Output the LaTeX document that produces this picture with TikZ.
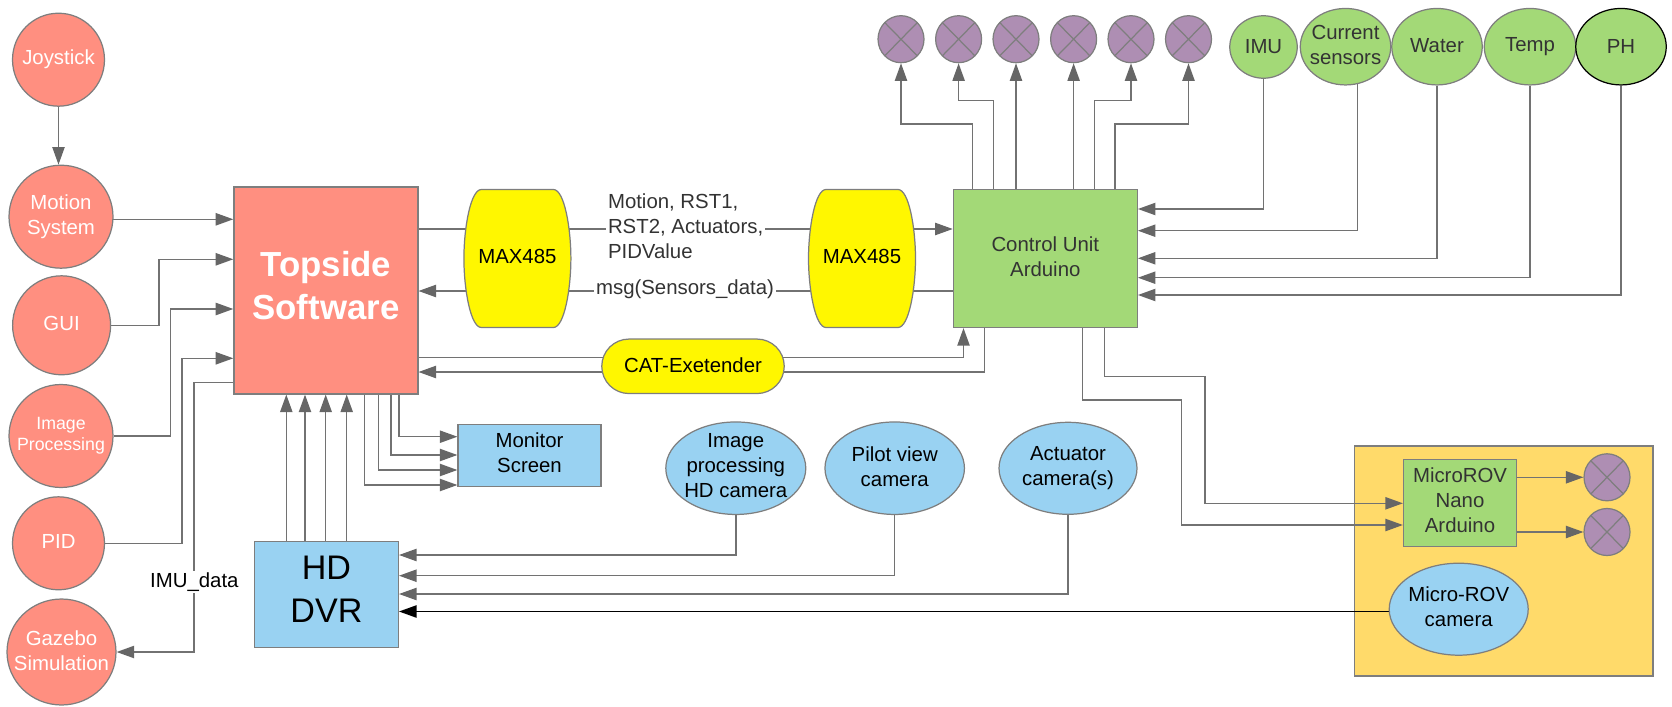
\documentclass[tikz,border=0pt]{standalone}
\usepackage{fontspec}
\setmainfont{Liberation Sans}
\usetikzlibrary{arrows.meta,shapes.geometric,shapes.misc}
\definecolor{redfill}{HTML}{FF8F80}
\definecolor{yellowfill}{HTML}{FFF700}
\definecolor{greenfill}{HTML}{A3D977}
\definecolor{bluefill}{HTML}{99D2F2}
\definecolor{orangefill}{HTML}{FFDA6A}
\definecolor{purplefill}{HTML}{AE8EB3}
\definecolor{edgegray}{HTML}{7E7E7E}
\definecolor{wiregray}{HTML}{727272}
\definecolor{tipgray}{HTML}{666666}
\definecolor{darktext}{HTML}{333333}
\pgfdeclarelayer{wires}
\pgfsetlayers{wires,main}
\tikzset{
	every node/.style={font=\fontsize{11.6}{14.2}\selectfont,align=center},
	box/.style={draw=edgegray,line width=0.7pt,rectangle,inner sep=0pt},
	ball/.style={draw=edgegray,line width=0.7pt,ellipse,inner sep=-6pt},
	redball/.style={ball,fill=redfill,text=white},
	greenball/.style={ball,fill=greenfill,text=darktext},
	blueball/.style={ball,fill=bluefill,text=black},
	thruster/.style={ball,fill=purplefill,inner sep=0pt,minimum width=0.92cm,minimum height=0.94cm,
		path picture={\draw[edgegray,line width=0.7pt] (path picture bounding box.north west) -- (path picture bounding box.south east)
			(path picture bounding box.north east) -- (path picture bounding box.south west);}},
	barrel/.style={draw=edgegray,line width=0.7pt,fill=yellowfill},
	wire/.style={draw=wiregray,line width=0.8pt,-{Triangle[length=10pt,width=7pt,color=tipgray]}},
	link/.style={draw=wiregray,line width=0.8pt},
	textlabel/.style={fill=white,inner sep=1pt},
}
\newcommand{\maxbarrel}[3]{
	\draw [barrel,shift={(#2,#3)}] (-36,-69) -- (36,-69) .. controls (47,-69) and (53.5,-30) .. (53.5,0)
		.. controls (53.5,30) and (47,69) .. (36,69) -- (-36,69) .. controls (-47,69) and (-53.5,30) .. (-53.5,0)
		.. controls (-53.5,-30) and (-47,-69) .. (-36,-69) -- cycle;
	\node [inner sep=0pt,text depth=2pt,minimum width=2.14cm,minimum height=2.76cm] (#1) at (#2,#3){MAX485};
}
\begin{document}
\begin{tikzpicture}[x=0.02cm,y=-0.02cm]
	\useasboundingbox (0,0) rectangle (1672,706);

	% left column
	\node [redball,minimum width=1.84cm,minimum height=1.86cm] (joystick) at (58.5,59.7){Joystick};
	\node [redball,minimum width=2.08cm,minimum height=2.06cm] (motion) at (61,216.7){Motion\\System};
	\node [redball,text depth=2.6pt,minimum width=1.96cm,minimum height=1.98cm] (gui) at (61.6,325.3){GUI};
	\node [redball,minimum width=2.08cm,minimum height=2.06cm,font=\fontsize{10.1}{12}\selectfont] (improc) at (61,436){Image\\Processing};
	\node [redball,text depth=2.2pt,minimum width=1.84cm,minimum height=1.86cm] (pid) at (58.5,543.3){PID};
	\node [redball,text depth=1.7pt,minimum width=2.18cm,minimum height=2.12cm] (gazebo) at (61.5,652){Gazebo\\Simulation};

	% topside
	\node [box,fill=redfill,text=white,text depth=5.6pt,minimum width=3.68cm,minimum height=4.14cm,font=\fontsize{19.8}{24.5}\selectfont\bfseries] (topside) at (325.9,290.5){Topside\\Software};
	\node [box,fill=bluefill,text depth=5.2pt,minimum width=2.88cm,minimum height=2.12cm,font=\fontsize{19.4}{24.5}\selectfont] (dvr) at (326.4,594.2){HD\\DVR};
	\node [box,fill=bluefill,text depth=2.6pt,minimum width=2.86cm,minimum height=1.24cm] (monitor) at (529.5,455.2){Monitor\\Screen};

	% middle
	\maxbarrel{maxa}{517.4}{258.5}
	\maxbarrel{maxb}{862}{258.5}
	\node [draw=edgegray,line width=0.7pt,rounded rectangle,fill=yellowfill,inner sep=0pt,text depth=1.8pt,minimum width=3.65cm,minimum height=1.09cm] (cat) at (693,366.3){CAT-Exetender};
	\node [textlabel,align=left,text=darktext] (cmdlabel) at (685.6,226){Motion, RST1,\\RST2, Actuators,\\PIDValue};
	\node [textlabel,text=darktext] (msglabel) at (685,289){msg(Sensors\_data)};
	\node [textlabel] (imulabel) at (194.4,582.3){IMU\_data};

	% control unit
	\node [box,fill=greenfill,text=darktext,text depth=2pt,minimum width=3.68cm,minimum height=2.76cm] (control) at (1045.3,258.5){Control Unit\\Arduino};

	% thrusters
	\node [thruster] (thra) at (901,39.2){};
	\node [thruster] (thrb) at (958.6,39.2){};
	\node [thruster] (thrc) at (1016,39.2){};
	\node [thruster] (thrd) at (1073.6,39.2){};
	\node [thruster] (thre) at (1131,39.2){};
	\node [thruster] (thrf) at (1188.5,39.2){};

	% sensors
	\node [greenball,minimum width=1.35cm,minimum height=1.25cm] (imu) at (1263.5,47){IMU};
	\node [greenball,text depth=2pt,minimum width=1.81cm,minimum height=1.53cm] (current) at (1345.5,46.7){Current\\sensors};
	\node [greenball,text depth=1.5pt,minimum width=1.81cm,minimum height=1.53cm] (water) at (1437,46.7){Water};
	\node [greenball,minimum width=1.83cm,minimum height=1.53cm] (temp) at (1530,46.7){Temp};
	\node [greenball,draw=black,minimum width=1.81cm,minimum height=1.53cm] (ph) at (1621,46.7){PH};

	% cameras
	\node [blueball,text depth=2.8pt,minimum width=2.8cm,minimum height=1.85cm] (ipcam) at (735.8,468.2){Image\\processing\\HD camera};
	\node [blueball,text depth=2.2pt,minimum width=2.79cm,minimum height=1.85cm] (pilotcam) at (894.7,468.2){Pilot view\\camera};
	\node [blueball,minimum width=2.76cm,minimum height=1.84cm] (actcam) at (1068,468.3){Actuator\\camera(s)};

	% micro rov
	\begin{pgfonlayer}{wires}
		\node [box,fill=orangefill,minimum width=5.98cm,minimum height=4.6cm] (rovbox) at (1503.6,561){};
	\end{pgfonlayer}
	\node [box,fill=greenfill,text=darktext,text depth=3pt,minimum width=2.26cm,minimum height=1.74cm] (nano) at (1460,503){MicroROV\\Nano\\Arduino};
	\node [thruster] (thrg) at (1607,477.3){};
	\node [thruster] (thrh) at (1607,532){};
	\node [blueball,text depth=3.4pt,minimum width=2.78cm,minimum height=1.84cm] (rovcam) at (1458.7,609.2){Micro-ROV\\camera};

	\begin{pgfonlayer}{wires}
		% left column
		\draw [wire] (joystick.south) -- (joystick.south |- motion.north);
		\draw [wire] (motion.center |- 0,219.3) -- (topside.west |- 0,219.3);
		\draw [wire] (gui) -| (159,259.3) -- (topside.west |- 0,259.3);
		\draw [wire] (improc) -| (170.7,309) -- (topside.west |- 0,309);
		\draw [wire] (pid) -| (182,358.3) -- (topside.west |- 0,358.3);
		\draw [wire] (topside.west |- 0,382.3) -| (194,652) -- (gazebo.east);

		% dvr to topside
		\draw [wire] (286.3,0 |- dvr.north) -- (286.3,0 |- topside.south);
		\draw [wire] (305,0 |- dvr.north) -- (305,0 |- topside.south);
		\draw [wire] (325.7,0 |- dvr.north) -- (325.7,0 |- topside.south);
		\draw [wire] (346.7,0 |- dvr.north) -- (346.7,0 |- topside.south);

		% topside to monitor
		\draw [wire] (399,0 |- topside.south) |- (monitor.west |- 0,436.7);
		\draw [wire] (391,0 |- topside.south) |- (monitor.west |- 0,455);
		\draw [wire] (378.5,0 |- topside.south) |- (monitor.west |- 0,470);
		\draw [wire] (364.7,0 |- topside.south) |- (monitor.west |- 0,485);

		% cameras to dvr
		\draw [wire] (ipcam.south) |- (dvr.east |- 0,555);
		\draw [wire] (pilotcam.south) |- (dvr.east |- 0,575.7);
		\draw [wire] (actcam.south) |- (dvr.east |- 0,594);
		\draw [wire,draw=black,-{Triangle[length=10pt,width=7pt,color=black]}] (rovcam.center |- 0,611.5) -- (dvr.east |- 0,611.5);

		% max485
		\draw [link] (topside.east |- 0,229) -- (maxb.center |- 0,229);
		\draw [wire] (maxb.center |- 0,229) -- (control.west |- 0,229);
		\draw [link] (control.west |- 0,291) -- (maxa.center |- 0,291);
		\draw [wire] (maxa.center |- 0,291) -- (topside.east |- 0,291);

		% cat
		\draw [wire] (topside.east |- 0,357.3) -| (963.5,0 |- control.south);
		\draw [wire] (984.4,0 |- control.south) |- (topside.east |- 0,372);

		% control unit to thrusters
		\draw [wire] (972.2,0 |- control.north) |- (thra.south |- 0,124) -- (thra.south);
		\draw [wire] (993.4,0 |- control.north) |- (thrb.south |- 0,100.7) -- (thrb.south);
		\draw [wire] (thrc.south |- control.north) -- (thrc.south);
		\draw [wire] (thrd.south |- control.north) -- (thrd.south);
		\draw [wire] (1094.5,0 |- control.north) |- (thre.south |- 0,100.7) -- (thre.south);
		\draw [wire] (1115,0 |- control.north) |- (thrf.south |- 0,124) -- (thrf.south);

		% sensors to control unit
		\draw [wire] (imu.south) |- (control.east |- 0,209);
		\draw [wire] (1357.5,0 |- current.center) |- (control.east |- 0,230.7);
		\draw [wire] (water.south) |- (control.east |- 0,258.3);
		\draw [wire] (temp.south) |- (control.east |- 0,277.7);
		\draw [wire] (ph.south) |- (control.east |- 0,295);

		% control unit to nano
		\draw [wire] (1104.6,0 |- control.south) |- (1204.9,376.7) |- (nano.west |- 0,503.3);
		\draw [wire] (1082.7,0 |- control.south) |- (1181.7,400) |- (nano.west |- 0,525);

		% nano to thrusters
		\draw [wire] (thrg -| nano.east) -- (thrg.west);
		\draw [wire] (thrh -| nano.east) -- (thrh.west);
	\end{pgfonlayer}
\end{tikzpicture}
\end{document}
